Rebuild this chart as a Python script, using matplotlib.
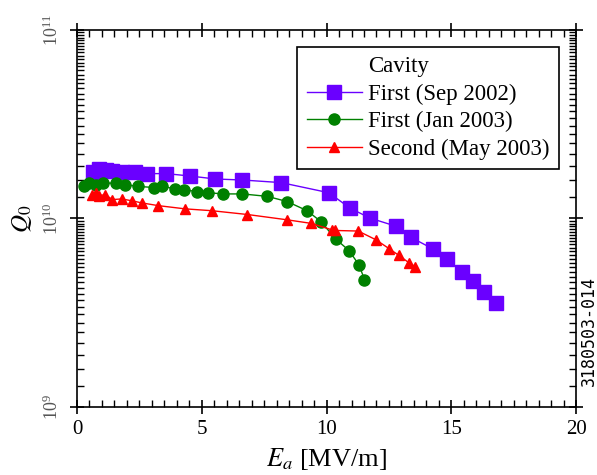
import matplotlib
matplotlib.use('Agg')
import matplotlib.pyplot as plt
import numpy as np
from matplotlib.ticker import LogLocator, MultipleLocator, NullFormatter

plt.rcParams['font.family'] = ['Liberation Serif', 'DejaVu Serif']
plt.rcParams['mathtext.fontset'] = 'stix'

# Cavity, first test (Sep 2002)
ea_sep02 = [0.65, 0.88, 1.15, 1.39, 1.79, 2.32, 2.82, 3.57, 4.53, 5.54, 6.63, 8.18,
            10.09, 10.94, 11.74, 12.77, 13.39, 14.28, 14.82, 15.44, 15.86, 16.31, 16.78]
q0_sep02 = [1.76e10, 1.84e10, 1.80e10, 1.78e10, 1.76e10, 1.76e10, 1.73e10, 1.73e10,
            1.68e10, 1.62e10, 1.60e10, 1.55e10, 1.37e10, 1.135e10, 1.005e10, 9.11e9,
            7.93e9, 6.88e9, 6.09e9, 5.22e9, 4.69e9, 4.07e9, 3.56e9]

# Cavity, first test (Jan 2003)
ea_jan03 = [0.28, 0.48, 0.76, 1.06, 1.56, 1.94, 2.46, 3.07, 3.42, 3.92, 4.29, 4.81,
            5.26, 5.86, 6.63, 7.63, 8.42, 9.22, 9.77, 10.37, 10.9, 11.31, 11.52]
q0_jan03 = [1.48e10, 1.54e10, 1.51e10, 1.54e10, 1.54e10, 1.51e10, 1.48e10, 1.46e10,
            1.49e10, 1.43e10, 1.42e10, 1.39e10, 1.37e10, 1.35e10, 1.35e10, 1.31e10,
            1.23e10, 1.10e10, 9.64e9, 7.78e9, 6.76e9, 5.65e9, 4.73e9]

# Second cavity (May 2003)
ea_may03 = [0.59, 0.76, 0.90, 1.12, 1.42, 1.79, 2.22, 2.59, 3.26, 4.33, 5.40, 6.83,
            8.40, 9.39, 10.21, 10.34, 11.27, 11.98, 12.52, 12.90, 13.32, 13.55]
q0_may03 = [1.34e10, 1.36e10, 1.32e10, 1.34e10, 1.26e10, 1.27e10, 1.24e10, 1.21e10,
            1.17e10, 1.125e10, 1.10e10, 1.05e10, 9.85e9, 9.42e9, 8.71e9, 8.64e9,
            8.58e9, 7.71e9, 6.90e9, 6.37e9, 5.80e9, 5.56e9]

labels = ['First (Sep 2002)', 'First (Jan 2003)', 'Second (May 2003)']

fig = plt.figure(figsize=(5.97, 4.75), dpi=100)
ax = fig.add_axes([0.129, 0.143, 0.836, 0.794])

ax.plot([], [], ' ', label='Cavity')
ax.plot(ea_sep02, q0_sep02, '-s', color='#6a00ff', lw=1, ms=9.5, label=labels[0])
ax.plot(ea_jan03, q0_jan03, '-o', color='#008000', lw=1, ms=8, label=labels[1])
ax.plot(ea_may03, q0_may03, '-^', color='#ff0000', lw=1, ms=7.5, label=labels[2])

ax.set_yscale('log')
ax.set_xlim(0, 20)
ax.set_ylim(1e9, 1e11)

ax.xaxis.set_major_locator(MultipleLocator(5))
ax.xaxis.set_minor_locator(MultipleLocator(0.5))
ax.yaxis.set_major_locator(LogLocator(base=10, numticks=5))
ax.yaxis.set_minor_locator(LogLocator(base=10, subs=np.arange(1.3, 10, 0.3), numticks=50))
ax.yaxis.set_minor_formatter(NullFormatter())

ax.tick_params(which='major', direction='inout', length=10, width=1.2,
               top=True, right=True)
ax.tick_params(which='minor', direction='in', length=5, width=1,
               top=True, right=True)
ax.tick_params(axis='x', which='major', labelsize=15, pad=4)
ax.tick_params(axis='y', which='major', labelsize=13, labelcolor='#555555',
               labelrotation=90, pad=6)
for lab in ax.get_yticklabels():
    lab.set_va('center')
for sp in ax.spines.values():
    sp.set_linewidth(1.2)

ax.set_xlabel('$E_a$ [MV/m]', fontsize=19, labelpad=5)
ax.set_ylabel('$Q_0$', fontsize=18, labelpad=6)

leg = ax.legend(loc='upper right', bbox_to_anchor=(0.966, 0.955), borderaxespad=0,
                fontsize=16.5, fancybox=False, edgecolor='black', framealpha=1,
                handlelength=2.4, handletextpad=0.3, labelspacing=0.28,
                borderpad=0.4)
leg.get_frame().set_linewidth(1.2)

fig.text(0.986, 0.303, '3180503-014', rotation=90, ha='center', va='center',
         fontsize=12, family='DejaVu Sans Mono')

fig.savefig('out.png', dpi=100)
